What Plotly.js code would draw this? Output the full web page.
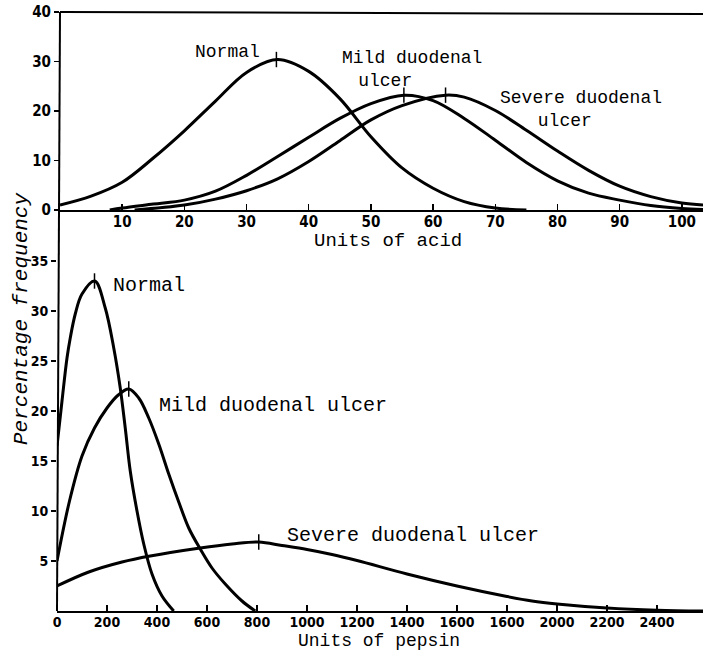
<!DOCTYPE html>
<html>
<head>
<meta charset="utf-8">
<script src="https://cdn.plot.ly/plotly-3.0.1.min.js"></script>
<style>html,body{margin:0;padding:0;background:#fff;}#chart{width:703px;height:655px;}</style>
</head>
<body>
<div id="chart"></div>
<script>
// ---- Units of acid (top panel) ----
const normalAcidX = [0, 5, 10, 15, 20, 25, 30, 35, 40, 45, 50, 55, 60, 65, 70, 75];
const normalAcidY = [1, 2.8, 5.6, 10.5, 16, 22, 27.8, 30.4, 28.0, 22.5, 14.8, 8.5, 4.4, 1.7, 0.4, 0];

const mildAcidX = [8, 10, 15, 20, 25, 30, 35, 40, 45, 50, 55.3, 60, 65, 70, 75, 80, 85, 90, 95, 100, 103.4];
const mildAcidY = [0, 0.4, 1.2, 2.0, 3.8, 7.0, 10.8, 14.7, 18.5, 21.5, 23.2, 22.1, 18.5, 14.1, 9.6, 5.9, 3.4, 2.0, 0.9, 0.3, 0.1];

const severeAcidX = [12, 20, 25, 30, 35, 40, 45, 50, 55, 62, 65, 70, 75, 80, 85, 90, 95, 100, 103.4];
const severeAcidY = [0, 1.0, 2.2, 3.9, 6.3, 9.8, 14.0, 18.2, 21.1, 23.2, 22.8, 20.1, 16.1, 11.9, 8.0, 4.8, 2.7, 1.4, 1.0];

const acidPeakX = [34.8, 55.3, 62];
const acidPeakY = [30.4, 23.2, 23.2];

const acidTicks = [10, 20, 30, 40, 50, 60, 70, 80, 90, 100];
const acidFreqTicks = [0, 10, 20, 30, 40];

// ---- Units of pepsin (bottom panel) ----
const normalPepX = [0, 20, 40, 53, 73, 100, 151, 193, 227, 253, 273, 293, 320, 347, 380, 420, 467];
const normalPepY = [16.5, 21, 25.3, 27.3, 29.7, 31.7, 33.0, 30.3, 26.3, 22.3, 18.3, 14.0, 10.0, 6.7, 3.7, 1.5, 0];

const mildPepX = [0, 50, 100, 150, 200, 245, 287, 327, 367, 407, 447, 487, 527, 573, 620, 673, 740, 793];
const mildPepY = [5.0, 11.0, 15.5, 18.3, 20.3, 21.6, 22.2, 21.3, 19.3, 16.7, 13.7, 10.9, 8.3, 6.2, 4.3, 2.7, 1.0, 0];

const severePepX = [0, 127, 260, 373, 573, 700, 807, 900, 1000, 1100, 1200, 1400, 1600, 1800, 1900, 2000, 2200, 2400, 2584];
const severePepY = [2.5, 3.9, 4.9, 5.5, 6.3, 6.7, 6.9, 6.55, 6.15, 5.65, 5.05, 3.7, 2.5, 1.45, 1.0, 0.7, 0.3, 0.08, 0];

const pepPeakX = [150, 287, 807];
const pepPeakY = [33.0, 22.2, 6.9];

const pepTicks = [0, 200, 400, 600, 800, 1000, 1200, 1400, 1600, 1800, 2000, 2200, 2400];
const pepTickText = ['0', '200', '400', '600', '800', '1000', '1200', '1400', '1600', '1600', '2000', '2200', '2400'];
const pepFreqTicks = [5, 10, 15, 20, 25, 30, 35];

const NB = '\u00a0';
const MONO = 'Liberation Mono, DejaVu Sans Mono, monospace';
const topLabelFont = {family: MONO, size: 18, color: '#000'};
const bottomLabelFont = {family: MONO, size: 20, color: '#000'};
const tickFontTop = {family: 'Liberation Sans Narrow, DejaVu Sans Condensed, Liberation Sans, sans-serif', size: 15, color: '#000', weight: 700};
const tickFontBottom = {family: 'Liberation Sans Narrow, DejaVu Sans Condensed, Liberation Sans, sans-serif', size: 14, color: '#000', weight: 700};

function curve(x, y, xa, ya) {
  return {x: x, y: y, xaxis: xa, yaxis: ya, type: 'scatter', mode: 'lines',
    line: {color: '#000', width: 3, shape: 'spline', smoothing: 1}, hoverinfo: 'skip'};
}
function peaks(x, y, xa, ya) {
  return {x: x, y: y, xaxis: xa, yaxis: ya, type: 'scatter', mode: 'markers',
    marker: {symbol: 'line-ns', size: 11, color: '#000', line: {color: '#000', width: 1.5}}, hoverinfo: 'skip'};
}

const data = [
  curve(normalAcidX, normalAcidY, 'x', 'y'),
  curve(mildAcidX, mildAcidY, 'x', 'y'),
  curve(severeAcidX, severeAcidY, 'x', 'y'),
  peaks(acidPeakX, acidPeakY, 'x', 'y'),
  curve(normalPepX, normalPepY, 'x2', 'y2'),
  curve(mildPepX, mildPepY, 'x2', 'y2'),
  curve(severePepX, severePepY, 'x2', 'y2'),
  peaks(pepPeakX, pepPeakY, 'x2', 'y2')
];

const splitY = (611 - 210) / 599;
const topLeft = (60 - 57) / 646;

const layout = {
  width: 703, height: 655,
  margin: {l: 57, r: 0, t: 12, b: 44, pad: 0},
  paper_bgcolor: '#fff', plot_bgcolor: '#fff',
  showlegend: false,
  xaxis: {domain: [topLeft, 1], anchor: 'y', range: [0, 103.4], tickmode: 'array', tickvals: acidTicks,
    ticks: 'inside', ticklen: 6, tickwidth: 1.5, tickcolor: '#000', showline: true, linewidth: 2, linecolor: '#000',
    showgrid: false, zeroline: false, tickfont: tickFontTop, ticklabelstandoff: -3, fixedrange: true},
  yaxis: {domain: [splitY, 1], anchor: 'x', range: [0, 40], tickmode: 'array', tickvals: acidFreqTicks,
    ticks: 'outside', ticklen: 5, tickwidth: 1.5, tickcolor: '#000', showline: false,
    showgrid: false, zeroline: false, tickfont: tickFontTop, fixedrange: true},
  xaxis2: {domain: [0, 1], anchor: 'y2', range: [0, 2584], tickmode: 'array', tickvals: pepTicks, ticktext: pepTickText,
    ticks: 'inside', ticklen: 6, tickwidth: 1.5, tickcolor: '#000', showline: true, linewidth: 2, linecolor: '#000',
    showgrid: false, zeroline: false, tickfont: tickFontBottom, ticklabelstandoff: -3, fixedrange: true},
  yaxis2: {domain: [0, splitY], anchor: 'x2', range: [0, 40.1], tickmode: 'array', tickvals: pepFreqTicks,
    ticks: 'outside', ticklen: 5, tickwidth: 1.5, tickcolor: '#000', showline: false,
    showgrid: false, zeroline: false, tickfont: tickFontBottom, fixedrange: true},
  shapes: [
    {type: 'line', xref: 'paper', yref: 'paper', x0: topLeft, y0: 1, x1: 0, y1: 0, line: {color: '#000', width: 2}},
    {type: 'line', xref: 'paper', yref: 'paper', x0: topLeft, y0: 1, x1: 1, y1: (611 - 14) / 599, line: {color: '#000', width: 2}}
  ],
  annotations: [
    {text: 'Normal', xref: 'x', yref: 'y', x: 27, y: 31.9, showarrow: false, font: topLabelFont},
    {text: 'Mild duodenal<br>ulcer' + NB.repeat(5), xref: 'x', yref: 'y', x: 56.6, y: 28.3, align: 'center',
      xanchor: 'center', yanchor: 'middle', showarrow: false, font: topLabelFont},
    {text: 'Severe duodenal<br>ulcer' + NB.repeat(3), xref: 'x', yref: 'y', x: 83.8, y: 20.4, align: 'center',
      xanchor: 'center', yanchor: 'middle', showarrow: false, font: topLabelFont},
    {text: 'Normal', xref: 'x2', yref: 'y2', x: 368, y: 32.6, showarrow: false, font: bottomLabelFont},
    {text: 'Mild duodenal ulcer', xref: 'x2', yref: 'y2', x: 400, y: 20.6, xanchor: 'left', yanchor: 'middle', showarrow: false, font: bottomLabelFont},
    {text: 'Severe duodenal ulcer', xref: 'x2', yref: 'y2', x: 912, y: 7.6, xanchor: 'left', yanchor: 'middle', showarrow: false, font: bottomLabelFont},
    {text: 'Units of acid', xref: 'paper', yref: 'paper', x: (388 - 57) / 646, y: (611 - 241) / 599,
      xanchor: 'center', yanchor: 'middle', showarrow: false, font: {family: MONO, size: 19, color: '#000'}},
    {text: 'Units of pepsin', xref: 'paper', yref: 'paper', x: (379 - 57) / 646, y: (611 - 641) / 599,
      xanchor: 'center', yanchor: 'middle', showarrow: false, font: {family: MONO, size: 18, color: '#000'}},
    {text: '<i>Percentage frequency</i>', xref: 'paper', yref: 'paper', x: (22 - 57) / 646, y: (611 - 319) / 599,
      xanchor: 'center', yanchor: 'middle', textangle: -90, showarrow: false,
      font: {family: MONO, size: 21, color: '#000'}}
  ]
};

Plotly.newPlot('chart', data, layout, {staticPlot: true, displayModeBar: false});
</script>
</body>
</html>
